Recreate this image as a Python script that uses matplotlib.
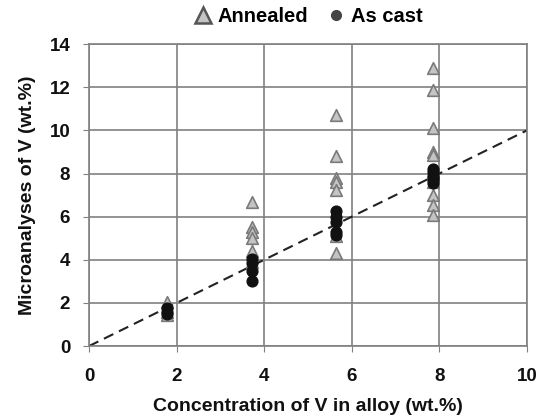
import numpy as np
import matplotlib.pyplot as plt
from matplotlib.lines import Line2D

plt.rcParams['font.family'] = ['Liberation Sans', 'DejaVu Sans']

# Data
ann_x = [1.78, 1.78, 1.78, 3.72, 3.72, 3.72, 3.72, 3.72, 3.72,
         5.65, 5.65, 5.65, 5.65, 5.65, 5.65, 5.65,
         7.85, 7.85, 7.85, 7.85, 7.85, 7.85, 7.85, 7.85, 7.85]
ann_y = [2.05, 1.6, 1.45, 6.7, 5.5, 5.3, 5.0, 4.4, 3.9,
         10.7, 8.8, 7.8, 7.6, 7.25, 5.1, 4.3,
         12.9, 11.85, 10.1, 9.0, 8.85, 7.0, 6.55, 6.1, 7.6]
cast_x = [1.78, 1.78, 1.78, 3.72, 3.72, 3.72, 3.72,
          5.65, 5.65, 5.65, 5.65, 5.65,
          7.85, 7.85, 7.85, 7.85, 7.85, 7.85]
cast_y = [1.75, 1.6, 1.5, 4.05, 3.85, 3.5, 3.0,
          6.25, 6.0, 5.75, 5.3, 5.15,
          8.2, 8.05, 7.9, 7.8, 7.7, 7.55]

fig = plt.figure(figsize=(5.41, 4.2), dpi=100)
ax = fig.add_axes([0.1645, 0.176, 0.8095, 0.719])

ax.plot([0, 10], [0, 10], color='#222222', linestyle=(0, (5, 3)), linewidth=1.5, zorder=2)
ax.scatter(ann_x, ann_y, marker='^', s=70, facecolor='#c4c4c4', edgecolor='#7a7a7a',
           linewidth=1.2, zorder=3)
ax.scatter(cast_x, cast_y, marker='o', s=60, facecolor='#111111', edgecolor='#111111',
           zorder=4)

ax.set_xlim(0, 10)
ax.set_ylim(0, 14)
ax.set_xticks(np.arange(0, 11, 2))
ax.set_yticks(np.arange(0, 15, 2))
ax.grid(True, color='#808080', linewidth=1.2)
ax.set_axisbelow(True)
for s in ax.spines.values():
    s.set_color('#808080')
    s.set_linewidth(1.2)
ax.tick_params(colors='#808080', length=4.5, labelcolor='#111111', labelsize=13.5)
ax.tick_params(axis='x', pad=11)
ax.tick_params(axis='y', pad=9)
for lbl in ax.get_xticklabels() + ax.get_yticklabels():
    lbl.set_fontweight('bold')

ax.set_xlabel('Concentration of V in alloy (wt.%)', fontsize=14, fontweight='bold',
              color='#111111', labelpad=10)
ax.set_ylabel('Microanalyses of V (wt.%)', fontsize=14, fontweight='bold',
              color='#111111', labelpad=10)

handles = [
    Line2D([], [], linestyle='none', marker='^', markersize=12, markerfacecolor='#c4c4c4',
           markeredgecolor='#555555', markeredgewidth=1.8),
    Line2D([], [], linestyle='none', marker='o', markersize=7, markerfacecolor='#444444',
           markeredgecolor='#444444'),
]
ax.legend(handles, ['Annealed', 'As cast'], loc='center', bbox_to_anchor=(0.5, 1.09),
          ncol=2, frameon=False, prop={'weight': 'bold', 'size': 14.5},
          handlelength=0.9, handletextpad=0.3, columnspacing=0.9)

fig.savefig('out.png', dpi=100)
